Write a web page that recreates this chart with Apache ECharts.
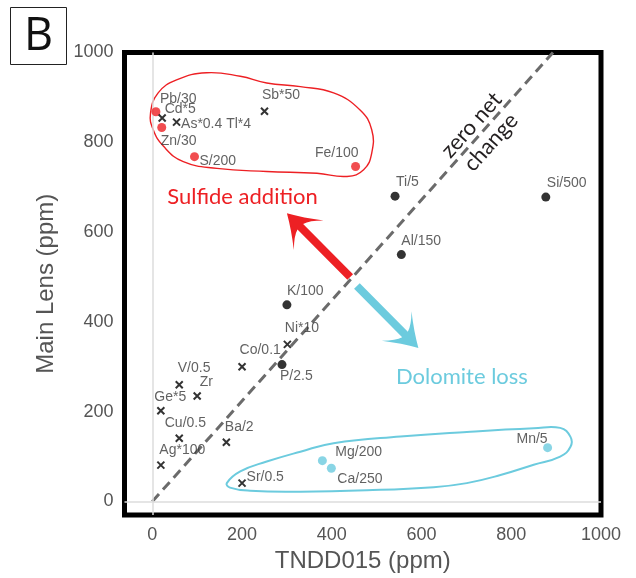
<!DOCTYPE html>
<html>
<head>
<meta charset="utf-8">
<script src="https://cdn.jsdelivr.net/npm/echarts@6/dist/echarts.min.js"></script>
<style>
  html, body { margin: 0; padding: 0; background: #fff; }
  #chart { width: 636px; height: 578px; }
</style>
</head>
<body>
<div id="chart"></div>
<script>
// Isocon plot: TNDD015 vs Main Lens, element concentrations scaled (ppm)

// Sulfide-associated elements (red dots)
const sulfideDotNames = ['Pb/30', 'Zn/30', 'S/200', 'Fe/100'];
const sulfideDotX = [8, 21, 94, 453];
const sulfideDotY = [868, 833, 768, 746];

// Sulfide-associated trace elements (crosses)
const sulfideCrossNames = ['Cd*5', 'As*0.4 Tl*4', 'Sb*50'];
const sulfideCrossX = [22, 54, 250];
const sulfideCrossY = [854, 845, 869];

// Major elements (black dots)
const majorNames = ['Ti/5', 'Si/500', 'Al/150', 'K/100', 'P/2.5'];
const majorX = [541, 877, 555, 300, 289];
const majorY = [680, 678, 550, 438, 305];

// Other trace elements (crosses)
const traceNames = ['Ni*10', 'Co/0.1', 'V/0.5', 'Zr', 'Ge*5', 'Cu/0.5', 'Ba/2', 'Ag*100', 'Sr/0.5'];
const traceX = [301, 200, 60, 100, 19, 60, 165, 19, 200];
const traceY = [350, 300, 260, 235, 202, 141, 132, 81, 41];

// Dolomite-associated elements (cyan dots)
const dolomiteNames = ['Mg/200', 'Ca/250', 'Mn/5'];
const dolomiteX = [379, 399, 881];
const dolomiteY = [91, 74, 120];

// Axis tick labels
const axisTicks = [0, 200, 400, 600, 800, 1000];

// Zero net change isocon
const isoconX = [0, 893];
const isoconY = [0, 1000];

// Group outlines (data coordinates)
const sulfideLoop = [
  [-4, 865], [13, 910], [54, 939], [121, 955], [196, 947], [255, 932], [330, 924],
  [404, 910], [463, 872], [489, 828], [489, 776], [471, 739], [434, 724], [367, 731],
  [255, 735], [144, 742], [69, 757], [25, 791], [2, 828]
];
const dolomiteLoop = [
  [166, 41], [196, 67], [255, 89], [330, 111], [404, 130], [553, 145], [701, 155],
  [850, 163], [909, 164], [932, 144], [932, 122], [909, 100], [850, 82], [776, 59],
  [701, 41], [627, 32], [478, 25], [330, 22], [218, 24], [173, 31]
];

// Trend arrows: [start, tip]
const sulfideArrow = [[441, 500], [300, 642]];
const dolomiteArrow = [[456, 480], [593, 342]];

// Annotation texts and anchors
const noteTexts = ['Sulfide addition', 'Dolomite loss', 'zero net\nchange'];
const noteX = [201, 690, 733];
const noteY = [679, 278, 819];

const RED = '#ED2024';
const CYAN = '#6CCBDE';
const LABEL_FONT = '"Liberation Sans", Arial, sans-serif';
const NOTE_FONT = 'Lato, "Open Sans", sans-serif';

// Label placement: [align, dx, dy] relative to marker centre (pixels)
const labelPlacement = {
  'Pb/30': ['left', 4, -13], 'Zn/30': ['left', -1, 14], 'S/200': ['left', 5, 4],
  'Fe/100': ['right', 3, -13], 'Cd*5': ['left', 5, -6], 'As*0.4 Tl*4': ['left', 7, 5],
  'Sb*50': ['left', 0, -14], 'Ti/5': ['left', 1, -14], 'Si/500': ['left', 1, -14],
  'Al/150': ['left', 0, -13], 'K/100': ['left', 0, -14], 'P/2.5': ['left', -2, 12],
  'Ni*10': ['left', 0, -14], 'Co/0.1': ['left', 0, -14], 'V/0.5': ['left', 1, -14],
  'Zr': ['left', 5, -11], 'Ge*5': ['left', -4, -11], 'Cu/0.5': ['left', -12, -13],
  'Ba/2': ['left', 1, -13], 'Ag*100': ['left', 1, -13], 'Sr/0.5': ['left', 7, -3],
  'Mg/200': ['left', 13, -9], 'Ca/250': ['left', 6, 11], 'Mn/5': ['right', 0, -9]
};

function buildPoints(names, xs, ys, size) {
  return names.map((n, i) => {
    const p = labelPlacement[n] || ['left', 5, -12];
    return {
      name: n,
      value: [xs[i], ys[i]],
      label: { position: [size / 2 + p[1], size / 2 + p[2]], align: p[0] }
    };
  });
}

const pointLabel = {
  show: true, formatter: '{b}', fontFamily: LABEL_FONT, fontSize: 14,
  color: '#3a3a3a', verticalAlign: 'middle'
};

const DOT = 9;
const CROSS = 7;
const crossSymbol = 'path://M0,0L10,10M0,10L10,0';

function dotSeries(names, xs, ys, color) {
  return {
    type: 'scatter', symbol: 'circle', symbolSize: DOT, z: 5,
    itemStyle: { color: color },
    label: pointLabel,
    data: buildPoints(names, xs, ys, DOT)
  };
}
function crossSeries(names, xs, ys) {
  return {
    type: 'scatter', symbol: crossSymbol, symbolSize: CROSS, z: 5,
    itemStyle: { color: 'none', borderColor: '#000', borderWidth: 2 },
    label: pointLabel,
    data: buildPoints(names, xs, ys, CROSS)
  };
}

function loopSeries(points, color, width) {
  return {
    type: 'custom', coordinateSystem: 'cartesian2d', silent: true, z: 2,
    data: [[0, 0]],
    renderItem: (params, api) => ({
      type: 'polygon',
      shape: { points: points.map(p => api.coord(p)), smooth: 0.45 },
      style: { fill: 'none', stroke: color, lineWidth: width }
    })
  };
}

function arrowSeries(arrow, color) {
  return {
    type: 'custom', coordinateSystem: 'cartesian2d', silent: true, z: 3,
    data: [[0, 0]],
    renderItem: (params, api) => {
      const s = api.coord(arrow[0]);
      const t = api.coord(arrow[1]);
      const dx = t[0] - s[0], dy = t[1] - s[1];
      const L = Math.hypot(dx, dy);
      const u = [dx / L, dy / L], n = [-u[1], u[0]];
      const P = (b, o) => [t[0] - u[0] * b + n[0] * o, t[1] - u[1] * b + n[1] * o];
      const h = 4;
      const f = p => p[0].toFixed(2) + ' ' + p[1].toFixed(2);
      const d =
        'M' + f(P(0, 0)) +
        ' Q' + f(P(15, 8.5)) + ' ' + f(P(31, 21)) +
        ' Q' + f(P(21, 11)) + ' ' + f(P(19, h)) +
        ' L' + f(P(L, h)) + ' L' + f(P(L, -h)) + ' L' + f(P(19, -h)) +
        ' Q' + f(P(21, -11)) + ' ' + f(P(31, -21)) +
        ' Q' + f(P(15, -8.5)) + ' ' + f(P(0, 0)) + ' Z';
      return { type: 'path', shape: { pathData: d }, style: { fill: color, stroke: 'none' } };
    }
  };
}

const noteColors = [RED, CYAN, '#231F20'];
const noteData = noteTexts.map((t, i) => [noteX[i], noteY[i], i]);

const chart = echarts.init(document.getElementById('chart'), null, { renderer: 'canvas' });

chart.setOption({
  animation: false,
  backgroundColor: '#fff',
  grid: {
    left: 124.5, top: 52.5, width: 476.5, height: 462.5,
    show: true, borderWidth: 5, borderColor: '#000', backgroundColor: 'transparent'
  },
  xAxis: {
    type: 'value', min: -62, max: 1000,
    axisLine: { show: false }, axisTick: { show: false }, splitLine: { show: false },
    axisLabel: { customValues: axisTicks, formatter: v => String(v), fontSize: 18, color: '#555', fontFamily: LABEL_FONT, margin: 11 },
    name: 'TNDD015 (ppm)', nameLocation: 'middle', nameGap: 31,
    nameTextStyle: { fontSize: 24, color: '#555', fontFamily: LABEL_FONT }
  },
  yAxis: {
    type: 'value', min: -30, max: 1000,
    axisLine: { show: false }, axisTick: { show: false }, splitLine: { show: false },
    axisLabel: { customValues: axisTicks, formatter: v => String(v), fontSize: 18, color: '#555', fontFamily: LABEL_FONT, margin: 11 },
    name: 'Main Lens (ppm)', nameLocation: 'middle', nameGap: 66,
    nameTextStyle: { fontSize: 24, color: '#555', fontFamily: LABEL_FONT }
  },
  graphic: [
    { type: 'rect', shape: { x: 10.5, y: 7.5, width: 56, height: 57 },
      style: { fill: '#fff', stroke: '#222', lineWidth: 1 } },
    { type: 'text', x: 38.5, y: 37.5,
      style: { text: 'B', fontSize: 45, fontFamily: '"Open Sans", sans-serif', fill: '#111',
               align: 'center', verticalAlign: 'middle' } }
  ],
  series: [
    {
      // zero reference lines and isocon
      type: 'line', z: 1, silent: true, symbol: 'none',
      data: isoconX.map((x, i) => [x, isoconY[i]]),
      lineStyle: { color: '#6b6b6b', width: 3, type: [10, 6] },
      markLine: {
        silent: true, symbol: 'none', label: { show: false },
        lineStyle: { color: '#dcdcdc', width: 1.5, type: 'solid' },
        data: [{ xAxis: 0 }, { yAxis: 0 }]
      }
    },
    loopSeries(sulfideLoop, RED, 1.4),
    loopSeries(dolomiteLoop, CYAN, 2),
    arrowSeries(sulfideArrow, RED),
    arrowSeries(dolomiteArrow, CYAN),
    dotSeries(sulfideDotNames, sulfideDotX, sulfideDotY, RED),
    crossSeries(sulfideCrossNames, sulfideCrossX, sulfideCrossY),
    dotSeries(majorNames, majorX, majorY, '#000'),
    crossSeries(traceNames, traceX, traceY),
    dotSeries(dolomiteNames, dolomiteX, dolomiteY, CYAN),
    {
      type: 'custom', coordinateSystem: 'cartesian2d', silent: true, z: 6,
      data: noteData,
      renderItem: (params, api) => {
        const i = api.value(2);
        const c = api.coord([api.value(0), api.value(1)]);
        const rotate = i === 2 ? Math.atan2(1000 * 0.4492, 893 * 0.4487) : 0;
        return {
          type: 'text', x: c[0], y: c[1], rotation: rotate,
          style: {
            text: noteTexts[i], fill: noteColors[i], fontSize: 22, fontFamily: NOTE_FONT,
            align: 'center', verticalAlign: 'middle', lineHeight: 26
          }
        };
      }
    }
  ]
});
</script>
</body>
</html>
